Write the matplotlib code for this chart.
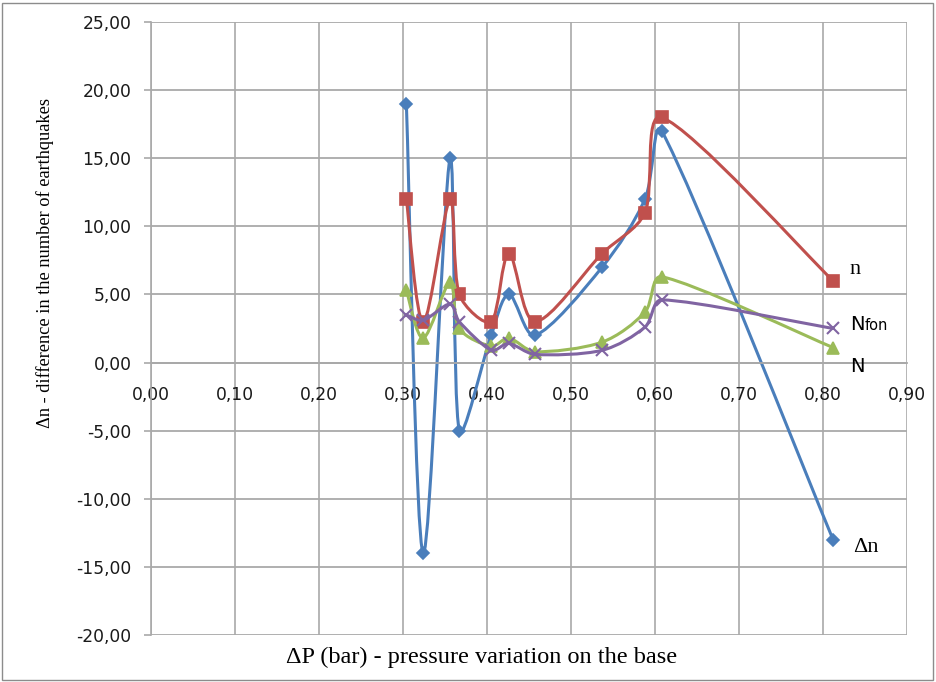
import matplotlib
matplotlib.use("Agg")
import matplotlib.pyplot as plt
import numpy as np
from matplotlib.path import Path
from matplotlib.patches import PathPatch, Rectangle

# ---- data ----
dP = [0.304, 0.324, 0.356, 0.367, 0.405, 0.426, 0.457, 0.537, 0.588, 0.608, 0.812]
dn = [19, -14, 15, -5, 2, 5, 2, 7, 12, 17, -13]
n_vals = [12, 3, 12, 5, 3, 8, 3, 8, 11, 18, 6]
N_vals = [5.3, 1.8, 5.9, 2.5, 1.2, 1.8, 0.8, 1.5, 3.7, 6.3, 1.1]
Nfon_vals = [3.5, 3.1, 4.3, 3.0, 0.9, 1.4, 0.6, 0.9, 2.6, 4.6, 2.5]

x_ticks = [0.0, 0.1, 0.2, 0.3, 0.4, 0.5, 0.6, 0.7, 0.8, 0.9]
y_ticks = [-20, -15, -10, -5, 0, 5, 10, 15, 20, 25]

def fmt(v):
    return f"{v:.2f}".replace(".", ",")

def smooth_path(ax, xs, ys):
    # Excel-like Bezier smoothing (Catmull-Rom arms, shortened next to short chords)
    pts = ax.transData.transform(np.column_stack([xs, ys]).astype(float))
    n = len(pts)
    d = [np.hypot(*(pts[i + 1] - pts[i])) for i in range(n - 1)]
    verts = [pts[0]]
    codes = [Path.MOVETO]
    for i in range(n - 1):
        p1, p2 = pts[i], pts[i + 1]
        if i > 0:
            f = min(1.0, 2 * d[i] / (d[i - 1] + d[i]))
            c1 = p1 + (p2 - pts[i - 1]) / 6.0 * f
        else:
            c1 = p1 + (p2 - p1) / 6.0
        if i + 2 < n:
            f = min(1.0, 2 * d[i] / (d[i] + d[i + 1]))
            c2 = p2 - (pts[i + 2] - p1) / 6.0 * f
        else:
            c2 = p2 - (p2 - p1) / 6.0
        verts += [c1, c2, p2]
        codes += [Path.CURVE4] * 3
    verts = ax.transData.inverted().transform(np.array(verts))
    return Path(verts, codes)

fig = plt.figure(figsize=(9.36, 6.82), dpi=100)
ax = fig.add_axes([151 / 936, 1 - 635 / 682, (907 - 151) / 936, (635 - 22) / 682])

ax.set_xlim(0, 0.9)
ax.set_ylim(-20, 25)
ax.set_xticks(x_ticks)
ax.set_yticks(y_ticks)
ax.set_xticklabels([fmt(v) for v in x_ticks])
ax.set_yticklabels([fmt(v) for v in y_ticks])

grid_col = "#a9a9a9"
for xv in x_ticks:
    ax.axvline(xv, color=grid_col, lw=1.2, zorder=0)
for yv in y_ticks:
    ax.axhline(yv, color=grid_col, lw=1.3, zorder=0)

for s in ["top", "right"]:
    ax.spines[s].set_visible(False)
ax.spines["left"].set_color(grid_col)
ax.spines["left"].set_linewidth(1.2)
ax.spines["bottom"].set_position(("data", 0))
ax.spines["bottom"].set_color(grid_col)
ax.spines["bottom"].set_linewidth(1.3)
ax.tick_params(axis="y", direction="out", length=5, color=grid_col, width=1.2, pad=9,
               labelsize=12.3, labelcolor="#1a1a1a")
ax.tick_params(axis="x", length=0, pad=17, labelsize=12.3, labelcolor="#1a1a1a")
for lab in ax.get_xticklabels() + ax.get_yticklabels():
    lab.set_fontfamily("DejaVu Sans")

series = [
    (dn, "#4A7EBB", "D", 6, 1.2),
    (n_vals, "#C0504D", "s", 8, 1.2),
    (N_vals, "#9BBB59", "^", 8, 1.2),
    (Nfon_vals, "#8064A2", "x", 8, 1.5),
]
for i, (ys, col, mk, ms, mew) in enumerate(series):
    patch = PathPatch(smooth_path(ax, dP, ys), facecolor="none", edgecolor=col, lw=2.2,
                      zorder=2 + i)
    ax.add_patch(patch)
    ax.plot(dP, ys, linestyle="none", marker=mk, color=col, markersize=ms,
            markeredgewidth=mew, zorder=2 + i + 0.5)

ax.text(0.832, 6.8, "n", fontsize=16, family="Liberation Serif", ha="left", va="center")
ax.text(0.832, 2.4, "N", fontsize=14, family="DejaVu Sans", ha="left", va="baseline")
ax.text(0.8495, 2.4, "fon", fontsize=10.5, family="DejaVu Sans", ha="left", va="baseline")
ax.text(0.832, -0.3, "N", fontsize=14, family="DejaVu Sans", ha="left", va="center")
ax.text(0.836, -13.6, "Δn", fontsize=16, family="Liberation Serif", ha="left", va="center")

fig.text(482 / 936, 1 - 657 / 682, "ΔP (bar) - pressure variation on the base",
         fontsize=17.5, family="Liberation Serif", ha="center", va="center")
fig.text(45 / 936, 1 - 263 / 682, "Δn - difference in the number of earthquakes",
         fontsize=13.2, family="Liberation Serif", ha="center", va="center", rotation=90)

fig.patches.append(Rectangle((2 / 936, 2 / 682), 931 / 936, 677 / 682, transform=fig.transFigure,
                             fill=False, edgecolor="#8c8c8c", lw=1.0))

fig.savefig("out.png", dpi=100)
